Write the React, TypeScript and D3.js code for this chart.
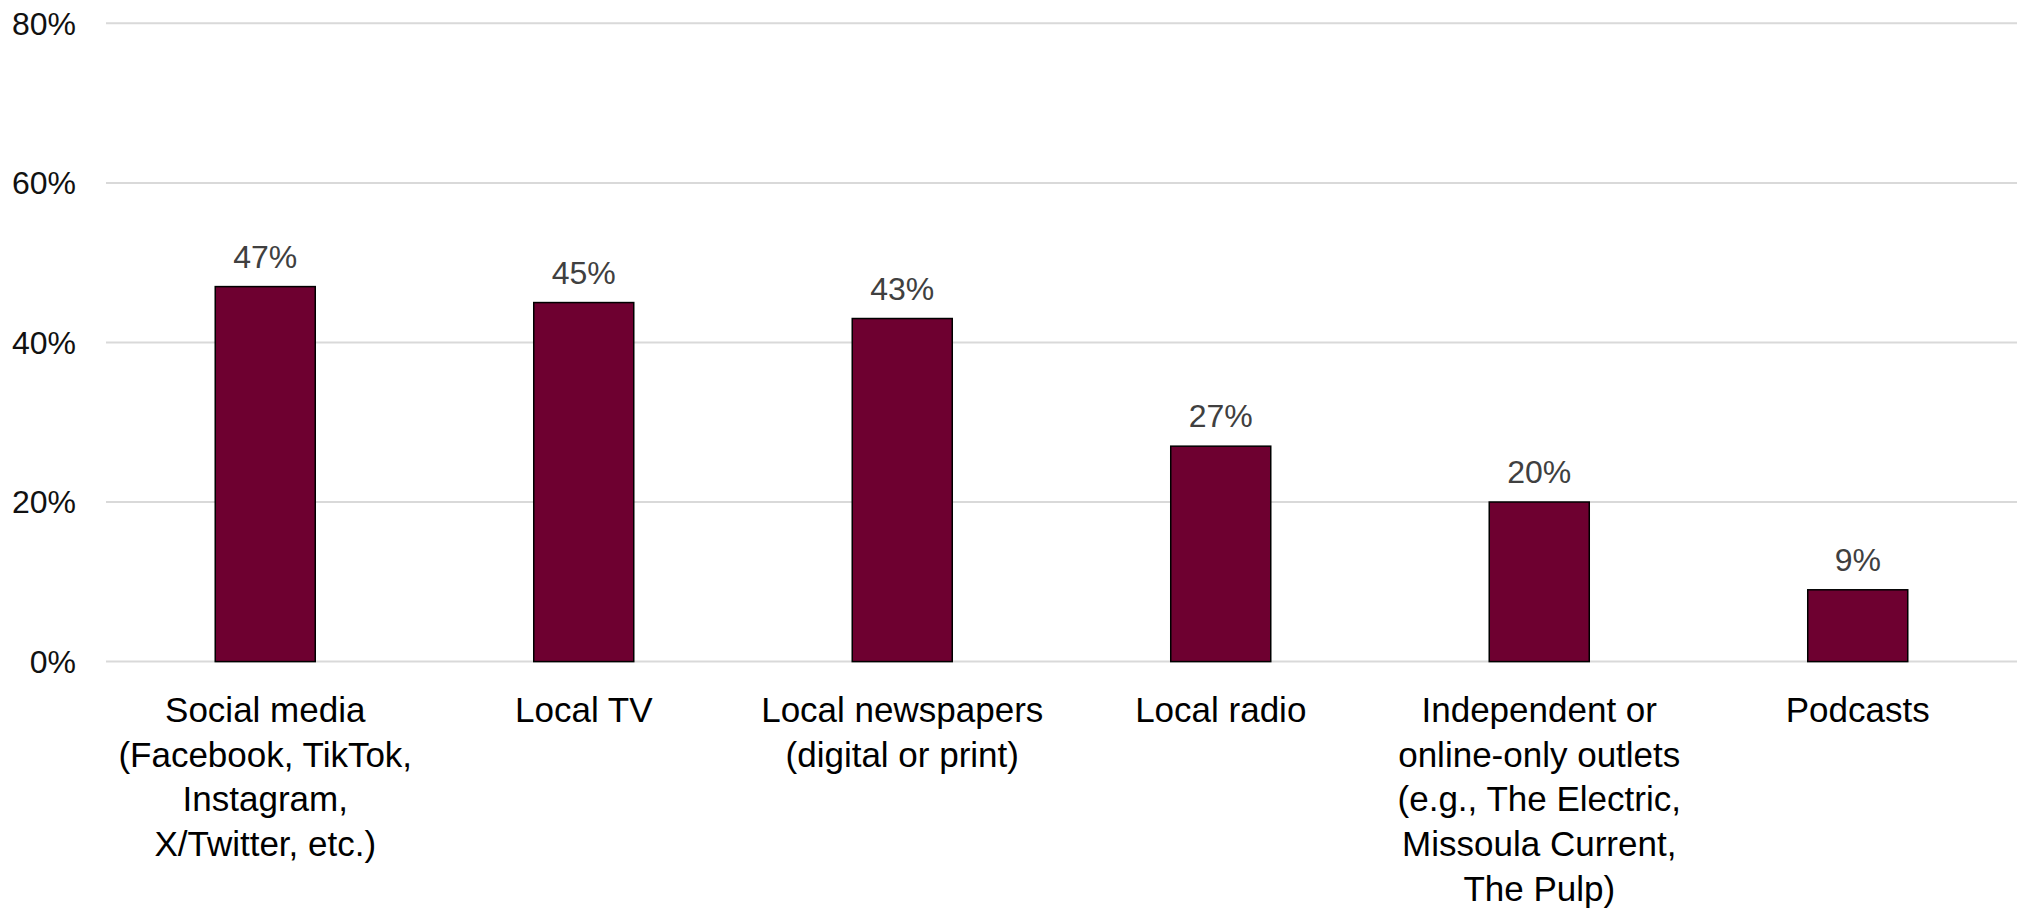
import React from "react";
import * as d3 from "d3";

const categories: string[][] = [
  ["Social media", "(Facebook, TikTok,", "Instagram,", "X/Twitter, etc.)"],
  ["Local TV"],
  ["Local newspapers", "(digital or print)"],
  ["Local radio"],
  ["Independent or", "online-only outlets", "(e.g., The Electric,", "Missoula Current,", "The Pulp)"],
  ["Podcasts"],
];
const values: number[] = [47, 45, 43, 27, 20, 9];
const yTicks: number[] = [0, 20, 40, 60, 80];

const W = 2018;
const H = 908;
const left = 106;
const right = 2017;
const top = 23.3;
const bottom = 661.6;
const FONT = "'Liberation Sans', Arial, sans-serif";

export default function App() {
  const keys = categories.map((_, i) => String(i));
  const x = d3.scaleBand<string>().domain(keys).range([left, right]).paddingInner(0.686).paddingOuter(0.343);
  const y = d3.scaleLinear().domain([0, 80]).range([bottom, top]);

  return (
    <svg width={W} height={H} style={{ position: "absolute", left: 0, top: 0, background: "#fff" }}>
      <rect x={0} y={0} width={W} height={H} fill="#fff" />
      {yTicks.map((t) => (
        <g key={t}>
          <line x1={left} x2={right} y1={y(t)} y2={y(t)} stroke="#d9d9d9" strokeWidth={2} />
          <text x={76} y={y(t)} dy="0.35em" textAnchor="end" fontFamily={FONT} fontSize={32} fill="#111">
            {`${t}%`}
          </text>
        </g>
      ))}
      {values.map((v, i) => {
        const bx = x(String(i))!;
        const bw = x.bandwidth();
        return (
          <g key={i}>
            <rect x={bx} y={y(v)} width={bw} height={y(0) - y(v)} fill="#6E0030" stroke="#000" strokeWidth={1.5} />
            <text x={bx + bw / 2} y={y(v) - 19} textAnchor="middle" fontFamily={FONT} fontSize={32} fill="#404040">
              {`${v}%`}
            </text>
          </g>
        );
      })}
      {categories.map((lines, i) => {
        const cx = x(String(i))! + x.bandwidth() / 2;
        return (
          <text key={i} textAnchor="middle" fontFamily={FONT} fontSize={35} fill="#000">
            {lines.map((ln, j) => (
              <tspan key={j} x={cx} y={722 + j * 44.7}>
                {ln}
              </tspan>
            ))}
          </text>
        );
      })}
    </svg>
  );
}
